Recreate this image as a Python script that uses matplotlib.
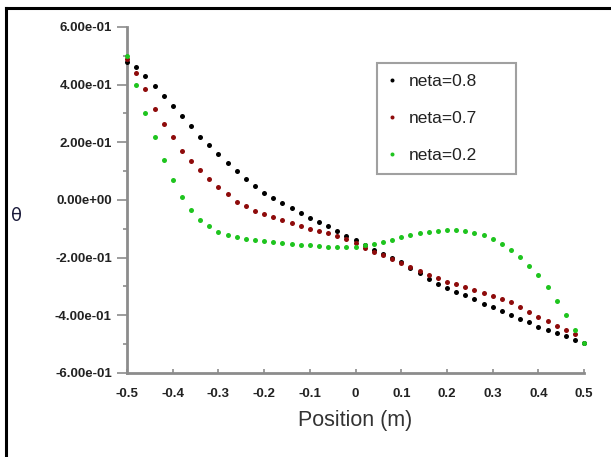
import matplotlib.pyplot as plt
from matplotlib.lines import Line2D
from matplotlib.ticker import MultipleLocator, FormatStrFormatter

# position along the domain (m)
pos = [-0.50, -0.48, -0.46, -0.44, -0.42, -0.40, -0.38, -0.36, -0.34, -0.32,
       -0.30, -0.28, -0.26, -0.24, -0.22, -0.20, -0.18, -0.16, -0.14, -0.12,
       -0.10, -0.08, -0.06, -0.04, -0.02, 0.00, 0.02, 0.04, 0.06, 0.08,
       0.10, 0.12, 0.14, 0.16, 0.18, 0.20, 0.22, 0.24, 0.26, 0.28,
       0.30, 0.32, 0.34, 0.36, 0.38, 0.40, 0.42, 0.44, 0.46, 0.48, 0.50]

theta_08 = [0.480, 0.460, 0.430, 0.395, 0.360, 0.325, 0.290, 0.255, 0.220, 0.190,
            0.160, 0.128, 0.100, 0.072, 0.048, 0.025, 0.005, -0.012, -0.028, -0.045,
            -0.062, -0.078, -0.092, -0.108, -0.124, -0.140, -0.157, -0.173, -0.187, -0.201,
            -0.216, -0.235, -0.255, -0.274, -0.290, -0.306, -0.318, -0.330, -0.345, -0.360,
            -0.372, -0.385, -0.398, -0.412, -0.425, -0.440, -0.452, -0.463, -0.473, -0.485, -0.495]

theta_07 = [0.490, 0.440, 0.385, 0.315, 0.265, 0.220, 0.170, 0.135, 0.104, 0.074,
            0.045, 0.020, -0.007, -0.022, -0.037, -0.050, -0.060, -0.070, -0.080, -0.090,
            -0.100, -0.108, -0.115, -0.124, -0.136, -0.150, -0.166, -0.180, -0.192, -0.205,
            -0.218, -0.232, -0.245, -0.260, -0.272, -0.283, -0.292, -0.302, -0.312, -0.322,
            -0.332, -0.342, -0.355, -0.370, -0.390, -0.405, -0.420, -0.437, -0.452, -0.465]

theta_02 = [0.500, 0.400, 0.300, 0.220, 0.140, 0.070, 0.010, -0.035, -0.068, -0.092,
            -0.110, -0.122, -0.130, -0.136, -0.140, -0.143, -0.146, -0.149, -0.152, -0.155,
            -0.158, -0.160, -0.162, -0.163, -0.163, -0.162, -0.158, -0.152, -0.145, -0.138,
            -0.130, -0.122, -0.116, -0.111, -0.108, -0.106, -0.106, -0.109, -0.115, -0.123,
            -0.135, -0.152, -0.172, -0.198, -0.228, -0.262, -0.302, -0.350, -0.400, -0.450, -0.495]

series = [('neta=0.8', theta_08, '#000000'),
          ('neta=0.7', theta_07, '#8e0b0b'),
          ('neta=0.2', theta_02, '#1fc41f')]

plt.rcParams['font.family'] = ['Liberation Sans', 'DejaVu Sans']

fig = plt.figure(figsize=(6.11, 4.57), dpi=100)
ax = fig.add_axes([0.208, 0.184, 0.748, 0.757])

for name, vals, col in series:
    ax.plot(pos[:len(vals)], vals, ls='none', marker='o', ms=3.6,
            mec='none', color=col, label=name, clip_on=False, zorder=5)

ax.set_xlim(-0.5, 0.5)
ax.set_ylim(-0.6, 0.6)
ax.xaxis.set_major_locator(MultipleLocator(0.1))
ax.yaxis.set_major_locator(MultipleLocator(0.2))
ax.yaxis.set_minor_locator(MultipleLocator(0.1))
ax.xaxis.set_major_formatter(plt.FuncFormatter(lambda v, p: '0' if abs(v) < 1e-9 else '%g' % round(v, 1)))
ax.yaxis.set_major_formatter(FormatStrFormatter('%.2e'))

for s in ['top', 'right']:
    ax.spines[s].set_visible(False)
for s in ['left', 'bottom']:
    ax.spines[s].set_color('#8c8c8c')
    ax.spines[s].set_linewidth(2)

ax.tick_params(axis='y', which='major', direction='out', length=7, width=1.2,
               color='#8c8c8c', labelsize=9.5, pad=4)
ax.tick_params(axis='y', which='minor', direction='out', length=3, width=1.2,
               color='#8c8c8c')
ax.tick_params(axis='x', which='major', direction='in', length=3, width=1.2,
               color='#8c8c8c', labelsize=9.5, pad=11)
for lab in ax.get_xticklabels() + ax.get_yticklabels():
    lab.set_fontweight('bold')
    lab.set_color('#222222')

ax.set_xlabel('Position (m)', fontsize=15.5, color='#333333', labelpad=7)
fig.text(0.027, 0.527, 'θ', fontsize=13, color='#1a1a3a', family='DejaVu Sans',
         ha='center', va='center')

# legend box stretched to a fixed width
leg = ax.legend(loc='upper left', bbox_to_anchor=(0.547, 0.5, 0.304, 0.396),
                mode='expand', borderaxespad=0, frameon=True, fancybox=False,
                fontsize=12.5, handlelength=0.4, handletextpad=0.75,
                labelspacing=1.25, borderpad=0.65, markerscale=0.8)
leg.get_frame().set_edgecolor('#888888')
leg.get_frame().set_linewidth(1.5)
for t in leg.get_texts():
    t.set_color('#222222')

# frame lines along the top and left edge of the figure
fig.add_artist(Line2D([0.010, 1.0], [0.982, 0.982], color='black', lw=2.2,
                      transform=fig.transFigure))
fig.add_artist(Line2D([0.010, 0.010], [0.0, 0.982], color='black', lw=2.2,
                      transform=fig.transFigure))

fig.savefig('out.png', dpi=100)
